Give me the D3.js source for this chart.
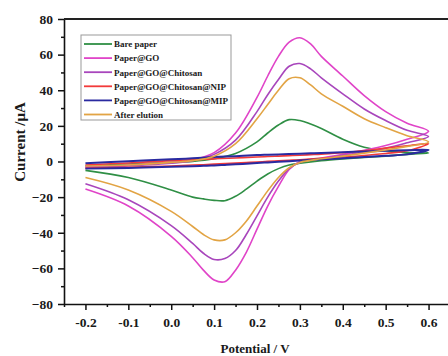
<!DOCTYPE html>
<html>
<head>
<meta charset="utf-8">
<script src="https://cdn.jsdelivr.net/npm/d3@7"></script>
<style>
  html, body { margin: 0; padding: 0; background: #fff; }
  svg { display: block; font-family: "Liberation Serif", "Times New Roman", serif; font-weight: bold; }
</style>
</head>
<body>
<svg id="chart" width="448" height="356"></svg>
<script>
// series, in legend order
const seriesNames = ['Bare paper', 'Paper@GO', 'Paper@GO@Chitosan', 'Paper@GO@Chitosan@NIP', 'Paper@GO@Chitosan@MIP', 'After elution'];
const seriesColors = ['#2f8f45', '#e044c8', '#a846bc', '#f23a3a', '#2a2aa0', '#e2a444'];

// potentials (V) of the anodic (forward) and cathodic (reverse) sweeps
const fwdPotential = [-0.2, -0.1, 0, 0.05, 0.1, 0.15, 0.2, 0.225, 0.25, 0.275, 0.3, 0.325, 0.35, 0.4, 0.45, 0.5, 0.55, 0.6];
const revPotential = [0.6, 0.55, 0.5, 0.4, 0.35, 0.3, 0.275, 0.25, 0.225, 0.2, 0.175, 0.15, 0.125, 0.1, 0.075, 0.05, 0, -0.1, -0.2];

// currents (uA)
const barePaperFwd = [-2.5, -1.5, -0.5, 0, 1.5, 4.5, 11, 16, 20.5, 23.5, 23, 21, 18.5, 12.5, 8, 6, 5, 4.8];
const barePaperRev = [4.8, 4, 3, 1.5, 0.5, -1, -2, -4, -7, -11, -15.5, -19.5, -22, -21.8, -21, -20, -16, -9, -5];
const paperGoFwd = [-3, -2, -0.5, 1, 5, 16, 36, 48, 59, 67, 69.5, 66, 59, 48, 37, 28, 21.5, 17];
const paperGoRev = [17, 12.5, 9, 4, 2, 0, -4.5, -14, -25, -38, -51, -61, -67.5, -66.5, -61, -54, -42, -25, -15.5];
const chitosanFwd = [-3.5, -2.5, -1, 0.5, 4, 12, 28, 37.5, 46, 53.5, 55, 52, 47, 38, 29.5, 23, 17.5, 14];
const chitosanRev = [14, 10.5, 7.5, 3.5, 1.5, -0.5, -4, -11, -20, -30.5, -41, -50, -54.5, -55, -51.5, -46, -36, -21.5, -12.5];
const nipFwd = [-2, -0.8, 0.5, 1, 1.5, 2, 2.5, 2.8, 3, 3.3, 3.5, 3.8, 4.1, 5, 6, 7.5, 8.8, 10];
const nipRev = [10, 6, 4.5, 2.5, 1.8, 1, 0.7, 0.4, 0.1, -0.3, -0.6, -0.9, -1.2, -1.5, -1.8, -2, -2.5, -3.2, -3.8];
const mipFwd = [-1, 0.2, 1.2, 1.8, 2.5, 3, 3.6, 3.8, 4, 4.2, 4.4, 4.6, 4.8, 5.2, 5.6, 6, 6.3, 6.5];
const mipRev = [6.5, 4, 3.2, 1.8, 1.2, 0.5, 0.2, -0.2, -0.5, -0.8, -1.2, -1.6, -1.9, -2.2, -2.4, -2.6, -3, -3.6, -4];
const elutionFwd = [-2.5, -2, -0.5, 0.5, 3, 10, 24, 32, 40, 46.5, 47, 43, 38, 31, 24, 19, 14.5, 11];
const elutionRev = [11, 8.5, 6.5, 3, 1.5, -0.5, -3.5, -9, -16.5, -25, -33.5, -40, -44, -44, -41, -36.5, -28, -16, -9];

// ticks
const xTicks = [-0.2, -0.1, 0, 0.1, 0.2, 0.3, 0.4, 0.5, 0.6];
const xTickLabels = ['-0.2', '-0.1', '0.0', '0.1', '0.2', '0.3', '0.4', '0.5', '0.6'];
const xMinorTicks = [-0.25, -0.15, -0.05, 0.05, 0.15, 0.25, 0.35, 0.45, 0.55];
const yTicks = [-80, -60, -40, -20, 0, 20, 40, 60, 80];
const yMinorTicks = [-70, -50, -30, -10, 10, 30, 50, 70];

const forward = [barePaperFwd, paperGoFwd, chitosanFwd, nipFwd, mipFwd, elutionFwd];
const reverse = [barePaperRev, paperGoRev, chitosanRev, nipRev, mipRev, elutionRev];

const svg = d3.select('#chart');
const plotLeft = 64, plotRight = 450, plotTop = 19, plotBottom = 304;

const x = d3.scaleLinear().domain([-0.25, 0.65]).range([plotLeft, plotRight]);
const y = d3.scaleLinear().domain([-80, 80]).range([plotBottom, plotTop]);

// curves
const line = d3.line()
  .x(d => x(d[0]))
  .y(d => y(d[1]))
  .curve(d3.curveCatmullRom.alpha(0.5));

const curves = svg.append('g');
seriesNames.forEach((name, i) => {
  const pts = fwdPotential.map((e, k) => [e, forward[i][k]])
    .concat(revPotential.slice(1).map((e, k) => [e, reverse[i][k + 1]]));
  curves.append('path')
    .attr('d', line(pts))
    .attr('fill', 'none')
    .attr('stroke', seriesColors[i])
    .attr('stroke-width', i === 4 ? 2 : 1.6)
    .attr('stroke-linejoin', 'round');
});

// axes
svg.append('g')
  .attr('transform', `translate(0,${plotBottom})`)
  .call(d3.axisBottom(x).tickValues(xTicks)
    .tickFormat((d, i) => xTickLabels[i])
    .tickSize(6).tickSizeOuter(0).tickPadding(7));
svg.append('g')
  .attr('transform', `translate(0,${plotBottom})`)
  .call(d3.axisBottom(x).tickValues(xMinorTicks).tickFormat('').tickSize(3).tickSizeOuter(0))
  .select('.domain').remove();

svg.append('g')
  .attr('transform', `translate(${plotLeft},0)`)
  .call(d3.axisLeft(y).tickValues(yTicks)
    .tickSize(6).tickSizeOuter(0).tickPadding(5));
svg.append('g')
  .attr('transform', `translate(${plotLeft},0)`)
  .call(d3.axisLeft(y).tickValues(yMinorTicks).tickFormat('').tickSize(3).tickSizeOuter(0))
  .select('.domain').remove();

svg.selectAll('.tick line').attr('stroke', '#111').attr('stroke-width', 1.5);
svg.selectAll('.domain').attr('stroke', '#111').attr('stroke-width', 1.6);
svg.selectAll('.tick text')
  .attr('font-family', '"Liberation Serif", serif')
  .attr('font-weight', 'bold')
  .attr('font-size', 13.5)
  .attr('fill', '#1a1a1a');

// frame top and right
svg.append('line')
  .attr('x1', plotLeft).attr('x2', plotRight)
  .attr('y1', plotTop).attr('y2', plotTop)
  .attr('stroke', '#222').attr('stroke-width', 2.2);
svg.append('line')
  .attr('x1', plotRight).attr('x2', plotRight)
  .attr('y1', plotTop).attr('y2', plotBottom)
  .attr('stroke', '#222').attr('stroke-width', 1.6);

// axis titles
svg.append('text')
  .attr('x', (plotLeft + plotRight) / 2 - 2)
  .attr('y', 353)
  .attr('text-anchor', 'middle')
  .attr('font-size', 13)
  .attr('fill', '#1a1a1a')
  .text('Potential / V');

svg.append('text')
  .attr('transform', 'translate(25,142) rotate(-90)')
  .attr('text-anchor', 'middle')
  .attr('font-size', 15)
  .attr('fill', '#1a1a1a')
  .text('Current /μA');

// legend
const legend = svg.append('g').attr('transform', 'translate(81,35)');
legend.append('rect')
  .attr('width', 150).attr('height', 85)
  .attr('fill', '#fff')
  .attr('stroke', '#999').attr('stroke-width', 1);
seriesNames.forEach((name, i) => {
  const ly = 9 + i * 14.1;
  legend.append('line')
    .attr('x1', 3).attr('x2', 31)
    .attr('y1', ly).attr('y2', ly)
    .attr('stroke', seriesColors[i]).attr('stroke-width', 1.8);
  legend.append('text')
    .attr('x', 33).attr('y', ly + 3.3)
    .attr('font-size', 9)
    .attr('fill', '#1a1a1a')
    .text(name);
});
</script>
</body>
</html>
